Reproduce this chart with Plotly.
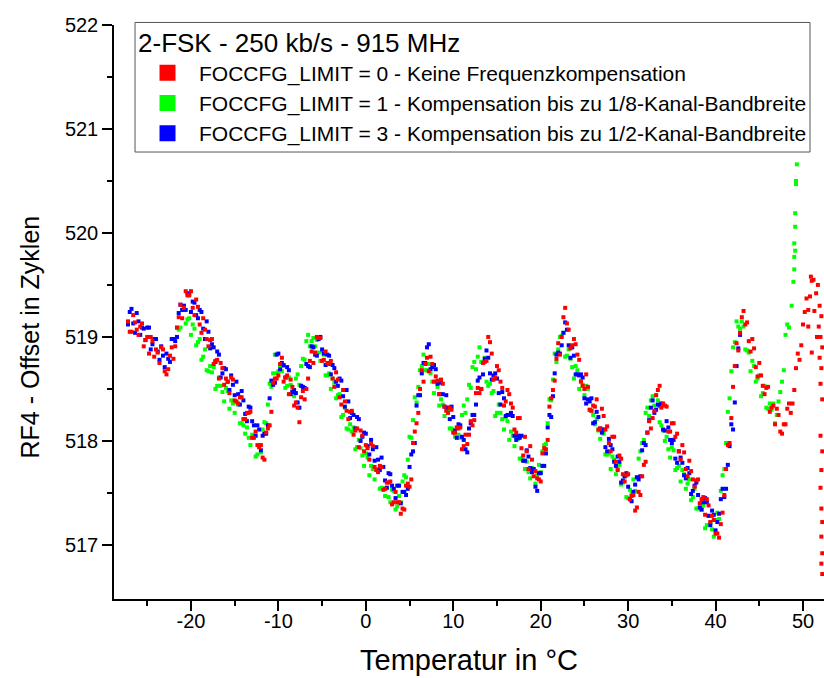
import plotly.graph_objects as go

TEMP = [-27.2, -26.8, -26.4, -26.0, -25.6, -25.2, -24.8, -24.4, -24.0, -23.6,
        -23.2, -22.8, -22.4, -22.0, -21.6, -21.2, -20.8, -20.4, -20.0, -19.6,
        -19.2, -18.8, -18.4, -18.0, -17.6, -17.2, -16.8, -16.4, -16.0, -15.6,
        -15.2, -14.8, -14.4, -14.0, -13.6, -13.2, -12.8, -12.4, -12.0, -11.6,
        -11.2, -10.8, -10.4, -10.0, -9.6, -9.2, -8.8, -8.4, -8.0, -7.6,
        -7.2, -6.8, -6.4, -6.0, -5.6, -5.2, -4.8, -4.4, -4.0, -3.6,
        -3.2, -2.8, -2.4, -2.0, -1.6, -1.2, -0.8, -0.4, 0.0, 0.4,
        0.8, 1.2, 1.6, 2.0, 2.4, 2.8, 3.2, 3.6, 4.0, 4.4,
        4.8, 5.2, 5.6, 6.0, 6.4, 6.8, 7.2, 7.6, 8.0, 8.4,
        8.8, 9.2, 9.6, 10.0, 10.4, 10.8, 11.2, 11.6, 12.0, 12.4,
        12.8, 13.2, 13.6, 14.0, 14.4, 14.8, 15.2, 15.6, 16.0, 16.4,
        16.8, 17.2, 17.6, 18.0, 18.4, 18.8, 19.2, 19.6, 20.0, 20.4,
        20.8, 21.2, 21.6, 22.0, 22.4, 22.8, 23.2, 23.6, 24.0, 24.4,
        24.8, 25.2, 25.6, 26.0, 26.4, 26.8, 27.2, 27.6, 28.0, 28.4,
        28.8, 29.2, 29.6, 30.0, 30.4, 30.8, 31.2, 31.6, 32.0, 32.4,
        32.8, 33.2, 33.6, 34.0, 34.4, 34.8, 35.2, 35.6, 36.0, 36.4,
        36.8, 37.2, 37.6, 38.0, 38.4, 38.8, 39.2, 39.6, 40.0, 40.4,
        40.8, 41.2, 41.6, 42.0, 42.4, 42.8, 43.2, 43.6, 44.0, 44.4,
        44.8, 45.2, 45.6, 46.0, 46.4, 46.8, 47.2, 47.6, 48.0, 48.4,
        48.8, 49.2, 49.6, 50.0, 50.4, 50.8, 51.2]
TEMP_B = [-27.0, -26.6, -26.2, -25.8, -25.4, -25.0, -24.6, -24.2, -23.8, -23.4,
          -23.0, -22.6, -22.2, -21.8, -21.4, -21.0, -20.6, -20.2, -19.8, -19.4,
          -19.0, -18.6, -18.2, -17.8, -17.4, -17.0, -16.6, -16.2, -15.8, -15.4,
          -15.0, -14.6, -14.2, -13.8, -13.4, -13.0, -12.6, -12.2, -11.8, -11.4,
          -11.0, -10.6, -10.2, -9.8, -9.4, -9.0, -8.6, -8.2, -7.8, -7.4,
          -7.0, -6.6, -6.2, -5.8, -5.4, -5.0, -4.6, -4.2, -3.8, -3.4,
          -3.0, -2.6, -2.2, -1.8, -1.4, -1.0, -0.6, -0.2, 0.2, 0.6,
          1.0, 1.4, 1.8, 2.2, 2.6, 3.0, 3.4, 3.8, 4.2, 4.6,
          5.0, 5.4, 5.8, 6.2, 6.6, 7.0, 7.4, 7.8, 8.2, 8.6,
          9.0, 9.4, 9.8, 10.2, 10.6, 11.0, 11.4, 11.8, 12.2, 12.6,
          13.0, 13.4, 13.8, 14.2, 14.6, 15.0, 15.4, 15.8, 16.2, 16.6,
          17.0, 17.4, 17.8, 18.2, 18.6, 19.0, 19.4, 19.8, 20.2, 20.6,
          21.0, 21.4, 21.8, 22.2, 22.6, 23.0, 23.4, 23.8, 24.2, 24.6,
          25.0, 25.4, 25.8, 26.2, 26.6, 27.0, 27.4, 27.8, 28.2, 28.6,
          29.0, 29.4, 29.8, 30.2, 30.6, 31.0, 31.4, 31.8, 32.2, 32.6,
          33.0, 33.4, 33.8, 34.2, 34.6, 35.0, 35.4, 35.8, 36.2, 36.6,
          37.0, 37.4, 37.8, 38.2, 38.6, 39.0, 39.4, 39.8, 40.2, 40.6,
          41.0, 41.4, 41.8, 42.2, 42.6, 43.0, 43.4, 43.8, 44.2, 44.6,
          45.0, 45.4, 45.8, 46.2, 46.6, 47.0, 47.4, 47.8, 48.2, 48.6,
          49.0, 49.4, 49.8, 50.2, 50.6, 51.0]

# FOCCFG_LIMIT = 0 (red) -- readings on TEMP (from index 0) and TEMP_B (from index 0)
RED = [519.15, 519.05, 519.14, 519.02, 519.13, 518.97, 518.84, 518.96, 518.88, 518.75,
       518.88, 518.64, 518.82, 518.79, 519.09, 519.31, 519.28, 519.40, 519.44, 519.21,
       519.29, 519.04, 519.07, 518.91, 518.98, 518.77, 518.60, 518.70, 518.60, 518.46,
       518.59, 518.38, 518.42, 518.21, 518.27, 518.28, 518.03, 517.96, 517.96, 517.82,
       518.12, 518.28, 518.60, 518.63, 518.80, 518.61, 518.45, 518.52, 518.37, 518.18,
       518.48, 518.50, 518.77, 518.75, 519.00, 518.99, 518.78, 518.75, 518.77, 518.52,
       518.59, 518.35, 518.38, 518.21, 518.29, 518.10, 517.94, 518.05, 517.96, 517.82,
       517.95, 517.72, 517.76, 517.53, 517.60, 517.61, 517.41, 517.41, 517.30, 517.34,
       517.59, 517.63, 518.09, 518.27, 518.68, 518.74, 518.67, 518.74, 518.62, 518.45,
       518.55, 518.29, 518.32, 518.08, 518.13, 518.13, 517.95, 517.97, 518.19, 518.20,
       518.51, 518.50, 518.76, 519.00, 518.84, 518.61, 518.68, 518.51, 518.38, 518.45,
       518.32, 518.08, 518.22, 517.86, 517.90, 517.95, 517.66, 517.64, 517.61, 517.93,
       518.01, 518.41, 518.58, 518.94, 519.00, 519.28, 519.07, 518.92, 518.93, 518.78,
       518.53, 518.64, 518.30, 518.34, 518.40, 518.12, 518.24, 518.14, 517.90, 518.04,
       517.72, 517.83, 517.61, 517.68, 517.47, 517.33, 517.51, 517.66, 517.80, 518.19,
       518.22, 518.44, 518.53, 518.36, 518.33, 518.09, 518.17, 518.07, 517.82, 517.89,
       517.66, 517.71, 517.56, 517.63, 517.44, 517.29, 517.38, 517.28, 517.11, 517.07,
       517.31, 517.73, 517.98, 518.52, 518.94, 519.04, 519.25, 519.14, 518.86, 518.89,
       518.62, 518.63, 518.45, 518.52, 518.32, 518.16, 518.25, 518.07, 518.16, 518.36,
       518.36, 518.70, 518.78, 519.12, 519.37, 519.39, 519.55]
RED_B = [519.05, 519.21, 519.07, 519.10, 518.91, 519.00, 519.00, 518.81, 518.85, 518.90,
         518.67, 518.69, 518.90, 518.91, 519.19, 519.18, 519.44, 519.40, 519.28, 519.36,
         519.12, 519.18, 518.98, 518.97, 518.74, 518.78, 518.75, 518.54, 518.57, 518.61,
         518.39, 518.36, 518.42, 518.21, 518.27, 518.03, 518.09, 517.94, 517.84, 518.08,
         518.15, 518.56, 518.60, 518.74, 518.57, 518.63, 518.59, 518.34, 518.32, 518.42,
         518.40, 518.60, 518.86, 518.85, 518.99, 518.77, 518.86, 518.74, 518.60, 518.66,
         518.42, 518.49, 518.29, 518.28, 518.06, 518.12, 518.10, 517.90, 517.93, 517.97,
         517.75, 517.70, 517.75, 517.54, 517.60, 517.39, 517.51, 517.41, 517.35, 517.57,
         517.56, 517.98, 518.17, 518.50, 518.57, 518.80, 518.81, 518.57, 518.58, 518.59,
         518.33, 518.27, 518.30, 518.08, 518.12, 517.92, 518.06, 518.06, 518.15, 518.46,
         518.46, 518.75, 518.77, 518.95, 518.59, 518.72, 518.57, 518.34, 518.49, 518.36,
         518.11, 518.22, 517.93, 518.04, 517.73, 517.82, 517.71, 517.63, 517.88, 517.92,
         518.33, 518.49, 518.79, 518.83, 519.19, 519.13, 518.89, 518.98, 518.83, 518.57,
         518.50, 518.52, 518.29, 518.33, 518.11, 518.31, 518.11, 517.98, 518.04, 517.80,
         517.86, 517.68, 517.67, 517.44, 517.48, 517.36, 517.48, 517.77, 518.08, 518.12,
         518.29, 518.49, 518.32, 518.34, 518.09, 518.17, 518.04, 517.90, 517.96, 517.73,
         517.81, 517.63, 517.62, 517.40, 517.46, 517.44, 517.22, 517.24, 517.11, 517.20,
         517.48, 517.96, 518.22, 518.72, 518.87, 519.19, 519.12, 518.96, 518.98, 518.71,
         518.75, 518.53, 518.51, 518.28, 518.34, 518.31, 518.09, 518.16, 518.31, 518.27,
         518.49, 518.84, 518.92, 519.24, 519.26, 519.54]
RED_TAIL_T = [50.6, 50.9, 51.0, 51.3, 51.5, 51.6, 51.7, 51.8, 51.9, 52.0,
              52.1, 51.9, 52.0, 52.2, 52.1, 52.0, 52.2, 52.1, 52.2, 52.1,
              52.0, 52.2, 52.1, 52.2, 52.1, 52.2]
RED_TAIL_V = [519.10, 519.58, 518.85, 519.25, 519.42, 519.00, 519.50, 519.10, 519.30, 519.00,
              519.20, 518.80, 518.55, 518.90, 518.70, 518.05, 518.40, 517.72, 517.90, 517.35,
              517.55, 517.22, 517.08, 516.92, 516.82, 516.72]

# FOCCFG_LIMIT = 1 (green) -- starts at TEMP[14] = -21.6 and TEMP_B[14] = -21.4
GREEN_START = 14
GREEN = [519.09, 519.09, 519.30, 519.17, 519.02, 519.08, 518.95, 518.78, 518.88, 518.67,
         518.66, 518.50, 518.61, 518.47, 518.51, 518.31, 518.36, 518.37, 518.17, 518.15,
         518.13, 517.96, 518.04, 517.87, 517.89, 518.18, 518.35, 518.52, 518.83, 518.67,
         518.67, 518.51, 518.61, 518.48, 518.60, 518.54, 518.79, 518.96, 518.91, 518.99,
         518.97, 518.77, 518.83, 518.63, 518.50, 518.56, 518.44, 518.23, 518.32, 518.11,
         518.09, 517.92, 518.01, 517.86, 517.88, 517.67, 517.73, 517.73, 517.54, 517.54,
         517.55, 517.41, 517.52, 517.37, 517.41, 517.67, 517.82, 518.03, 518.42, 518.52,
         518.72, 518.68, 518.74, 518.57, 518.57, 518.34, 518.35, 518.32, 518.12, 518.10,
         518.12, 518.03, 518.34, 518.40, 518.51, 518.76, 518.81, 518.76, 518.80, 518.53,
         518.46, 518.24, 518.35, 518.21, 518.23, 518.01, 518.05, 518.04, 517.83, 517.81,
         517.80, 517.64, 517.72, 517.67, 517.70, 517.96, 518.17, 518.39, 518.84, 518.88,
         519.01, 518.81, 518.88, 518.71, 518.72, 518.50, 518.54, 518.53, 518.30, 518.25,
         518.21, 518.02, 518.07, 517.87, 517.73, 517.82, 517.73, 517.58, 517.66, 517.45,
         517.49, 517.52, 517.83, 517.98, 518.27, 518.24, 518.43, 518.44, 518.18, 518.10,
         518.04, 517.84, 517.91, 517.74, 517.61, 517.68, 517.59, 517.43, 517.54, 517.35,
         517.34, 517.16, 517.28, 517.15, 517.24, 517.25, 517.67, 517.98, 518.41, 518.90,
         519.15, 519.08, 519.10, 518.87, 518.67, 518.72, 518.60, 518.43, 518.53, 518.31,
         518.30, 518.17, 518.38, 518.57, 519.02, 519.09]
GREEN_B = [519.07, 519.26, 519.13, 519.18, 519.12, 518.92, 518.98, 518.81, 518.68, 518.72,
           518.71, 518.53, 518.53, 518.38, 518.48, 518.39, 518.27, 518.35, 518.17, 518.07,
           518.03, 518.06, 517.85, 517.96, 518.11, 518.17, 518.55, 518.65, 518.65, 518.73,
           518.72, 518.53, 518.54, 518.43, 518.64, 518.72, 518.78, 519.02, 518.96, 518.91,
           518.85, 518.86, 518.63, 518.65, 518.60, 518.41, 518.45, 518.25, 518.12, 518.16,
           518.13, 517.94, 517.93, 517.76, 517.84, 517.76, 517.63, 517.72, 517.55, 517.47,
           517.46, 517.53, 517.34, 517.47, 517.61, 517.65, 518.04, 518.20, 518.37, 518.68,
           518.83, 518.68, 518.65, 518.46, 518.52, 518.40, 518.24, 518.30, 518.12, 518.04,
           518.06, 518.25, 518.27, 518.54, 518.71, 518.69, 518.90, 518.76, 518.57, 518.55,
           518.48, 518.27, 518.27, 518.11, 518.19, 518.09, 517.95, 518.02, 517.83, 517.73,
           517.70, 517.74, 517.59, 517.77, 517.90, 517.97, 518.40, 518.59, 518.76, 519.00,
           519.04, 518.82, 518.79, 518.60, 518.68, 518.58, 518.44, 518.50, 518.29, 518.16,
           518.10, 518.11, 517.87, 517.88, 517.85, 517.68, 517.77, 517.60, 517.46, 517.53,
           517.63, 517.65, 517.90, 518.01, 518.32, 518.39, 518.34, 518.39, 518.15, 518.00,
           517.92, 517.94, 517.72, 517.76, 517.72, 517.54, 517.63, 517.46, 517.35, 517.40,
           517.38, 517.19, 517.21, 517.08, 517.31, 517.52, 517.73, 518.28, 518.67, 518.95,
           519.10, 519.15, 518.88, 518.85, 518.77, 518.57, 518.63, 518.46, 518.32, 518.36,
           518.36, 518.25, 518.47, 518.68, 519.12]
GREEN_TAIL_T = [48.7, 48.9, 49.0, 49.0, 49.1, 49.0, 49.1, 49.1, 49.2, 49.2, 49.3]
GREEN_TAIL_V = [519.30, 519.53, 519.65, 519.77, 519.83, 519.90, 520.06, 520.19, 520.47, 520.50, 520.66]

# FOCCFG_LIMIT = 3 (blue) -- readings on TEMP and TEMP_B (from index 0)
BLUE = [519.12, 519.27, 519.04, 519.15, 519.09, 518.97, 519.09, 518.93, 518.98, 518.78,
        518.82, 518.84, 518.76, 518.98, 519.00, 519.31, 519.30, 519.42, 519.24, 519.33,
        519.18, 519.24, 518.98, 519.05, 518.93, 518.76, 518.83, 518.65, 518.69, 518.49,
        518.54, 518.57, 518.35, 518.39, 518.19, 518.32, 518.15, 518.15, 517.91, 518.07,
        518.15, 518.58, 518.56, 518.84, 518.75, 518.61, 518.68, 518.47, 518.46, 518.32,
        518.52, 518.74, 518.71, 518.90, 518.82, 519.00, 518.84, 518.83, 518.64, 518.70,
        518.53, 518.58, 518.33, 518.38, 518.27, 518.12, 518.21, 518.04, 518.07, 517.87,
        517.92, 517.94, 517.72, 517.75, 517.55, 517.68, 517.54, 517.57, 517.40, 517.51,
        517.54, 517.87, 517.98, 518.44, 518.65, 518.75, 518.93, 518.71, 518.69, 518.45,
        518.45, 518.44, 518.21, 518.23, 518.03, 518.15, 518.01, 517.89, 518.17, 518.25,
        518.58, 518.50, 518.79, 518.80, 518.59, 518.65, 518.46, 518.47, 518.24, 518.25,
        518.24, 518.01, 518.03, 517.81, 517.91, 517.74, 517.73, 517.52, 517.69, 517.76,
        518.13, 518.23, 518.65, 518.85, 518.92, 519.14, 518.92, 518.90, 518.64, 518.63,
        518.61, 518.36, 518.38, 518.17, 518.28, 518.12, 518.11, 517.90, 517.96, 517.80,
        517.85, 517.60, 517.66, 517.56, 517.42, 517.58, 517.63, 517.91, 517.96, 518.20,
        518.39, 518.30, 518.34, 518.11, 518.19, 518.01, 518.01, 517.79, 517.84, 517.67,
        517.74, 517.49, 517.57, 517.48, 517.34, 517.45, 517.28, 517.33, 517.14, 517.30,
        517.54, 517.54, 517.95, 518.11, 518.72, 519.02]
BLUE_B = [519.24, 519.13, 519.23, 519.02, 519.08, 519.09, 518.88, 518.98, 518.86, 518.91,
          518.71, 518.79, 518.98, 518.96, 519.23, 519.26, 519.26, 519.41, 519.34, 519.21,
          519.26, 519.08, 519.15, 518.89, 518.90, 518.86, 518.61, 518.70, 518.57, 518.63,
          518.44, 518.45, 518.48, 518.26, 518.33, 518.19, 518.05, 518.11, 518.05, 518.07,
          518.41, 518.54, 518.83, 518.69, 518.73, 518.71, 518.45, 518.49, 518.37, 518.53,
          518.51, 518.72, 518.91, 518.83, 518.98, 518.88, 518.73, 518.82, 518.73, 518.57,
          518.60, 518.43, 518.49, 518.22, 518.25, 518.23, 518.00, 518.08, 517.95, 518.01,
          517.81, 517.82, 517.84, 517.62, 517.69, 517.57, 517.45, 517.57, 517.51, 517.48,
          517.75, 517.90, 518.34, 518.44, 518.75, 518.90, 518.69, 518.73, 518.55, 518.56,
          518.33, 518.32, 518.33, 518.10, 518.16, 518.04, 517.92, 518.12, 518.25, 518.35,
          518.61, 518.64, 518.87, 518.65, 518.63, 518.60, 518.35, 518.41, 518.25, 518.27,
          518.05, 518.05, 518.05, 517.81, 517.85, 517.70, 517.56, 517.69, 517.76, 517.88,
          518.25, 518.43, 518.83, 518.84, 519.04, 519.07, 518.80, 518.82, 518.64, 518.64,
          518.41, 518.40, 518.41, 518.18, 518.23, 518.08, 517.94, 518.02, 517.92, 517.76,
          517.80, 517.62, 517.69, 517.44, 517.51, 517.65, 517.66, 517.98, 518.08, 518.32,
          518.27, 518.35, 518.36, 518.10, 518.13, 517.98, 517.83, 517.90, 517.79, 517.64,
          517.69, 517.52, 517.60, 517.36, 517.41, 517.41, 517.19, 517.29, 517.22, 517.44,
          517.46, 517.77, 518.16, 518.37, 518.89]

NAMES = ["FOCCFG_LIMIT = 0 - Keine Frequenzkompensation",
         "FOCCFG_LIMIT = 1 - Kompensation bis zu 1/8-Kanal-Bandbreite",
         "FOCCFG_LIMIT = 3 - Kompensation bis zu 1/2-Kanal-Bandbreite"]
COLORS = ["#FF0000", "#00FF00", "#0000FF"]
LEGEND_TITLE = "2-FSK - 250 kb/s - 915 MHz"
X_TITLE = "Temperatur in °C"
Y_TITLE = "RF4 - Offset in Zyklen"
X_TICKS = [-20, -10, 0, 10, 20, 30, 40, 50]
X_LABELS = ["-20", "-10", "0", "10", "20", "30", "40", "50"]
X_MINOR = [-25, -15, -5, 5, 15, 25, 35, 45]
Y_TICKS = [517, 518, 519, 520, 521, 522]
Y_LABELS = ["517", "518", "519", "520", "521", "522"]
Y_MINOR = [517.5, 518.5, 519.5, 520.5, 521.5]

FONT = "Liberation Sans, Arial, sans-serif"
MSIZE = 4

fig = go.Figure()


def add_points(xs, ys, color):
    fig.add_trace(go.Scatter(
        x=xs, y=ys, mode="markers", showlegend=False, hoverinfo="skip",
        marker=dict(symbol="square", size=MSIZE, color=color, line=dict(width=0))))


n_g, n_gb = len(GREEN), len(GREEN_B)
add_points(TEMP[GREEN_START:GREEN_START + n_g] + TEMP_B[GREEN_START:GREEN_START + n_gb] + GREEN_TAIL_T,
           GREEN + GREEN_B + GREEN_TAIL_V, COLORS[1])
add_points(TEMP[:len(BLUE)] + TEMP_B[:len(BLUE_B)], BLUE + BLUE_B, COLORS[2])
add_points(TEMP[:len(RED)] + TEMP_B[:len(RED_B)] + RED_TAIL_T, RED + RED_B + RED_TAIL_V, COLORS[0])

# legend entries (large square symbols as in the original)
for name, color in zip(NAMES, COLORS):
    fig.add_trace(go.Scatter(
        x=[None], y=[None], mode="markers", name=name, showlegend=True,
        marker=dict(symbol="square", size=16, color=color, line=dict(width=0))))

axis_common = dict(showline=True, linecolor="black", linewidth=1.5, mirror=False,
                   ticks="outside", ticklen=10, tickwidth=1.5, tickcolor="black",
                   showgrid=False, zeroline=False, tickmode="array",
                   tickfont=dict(family=FONT, size=20, color="black"))

fig.update_layout(
    width=824, height=678,
    margin=dict(l=114, r=0, t=25, b=79),
    paper_bgcolor="white", plot_bgcolor="white",
    font=dict(family=FONT, color="black"),
    xaxis=dict(range=[-28.8, 52.4], tickvals=X_TICKS, ticktext=X_LABELS,
               ticklabelstandoff=-7,
               minor=dict(tickmode="array", tickvals=X_MINOR, ticks="outside", ticklen=5,
                          tickwidth=1.5, tickcolor="black"),
               title=dict(text=X_TITLE, font=dict(family=FONT, size=29), standoff=19),
               **axis_common),
    yaxis=dict(range=[516.48, 522], tickvals=Y_TICKS, ticktext=Y_LABELS,
               ticklabelstandoff=0,
               minor=dict(tickmode="array", tickvals=Y_MINOR, ticks="outside", ticklen=5,
                          tickwidth=1.5, tickcolor="black"),
               **axis_common),
    legend=dict(x=0.031, y=1.011, xanchor="left", yanchor="top",
                bgcolor="rgba(0,0,0,0)", borderwidth=0,
                font=dict(family=FONT, size=21, color="black"),
                title=dict(text=LEGEND_TITLE, font=dict(family=FONT, size=26)),
                itemsizing="trace", itemwidth=53, tracegroupgap=0),
    showlegend=True,
    shapes=[dict(type="rect", xref="paper", yref="paper",
                 x0=0.0296, x1=0.9803, y0=0.7787, y1=1.0044,
                 line=dict(color="#555555", width=1), fillcolor="white", layer="above")],
    annotations=[dict(text=Y_TITLE, xref="paper", yref="paper", x=-0.118, y=0.456,
                      xanchor="center", yanchor="middle", textangle=-90, showarrow=False,
                      font=dict(family=FONT, size=25, color="black"))],
)

fig.write_html("out.html")
